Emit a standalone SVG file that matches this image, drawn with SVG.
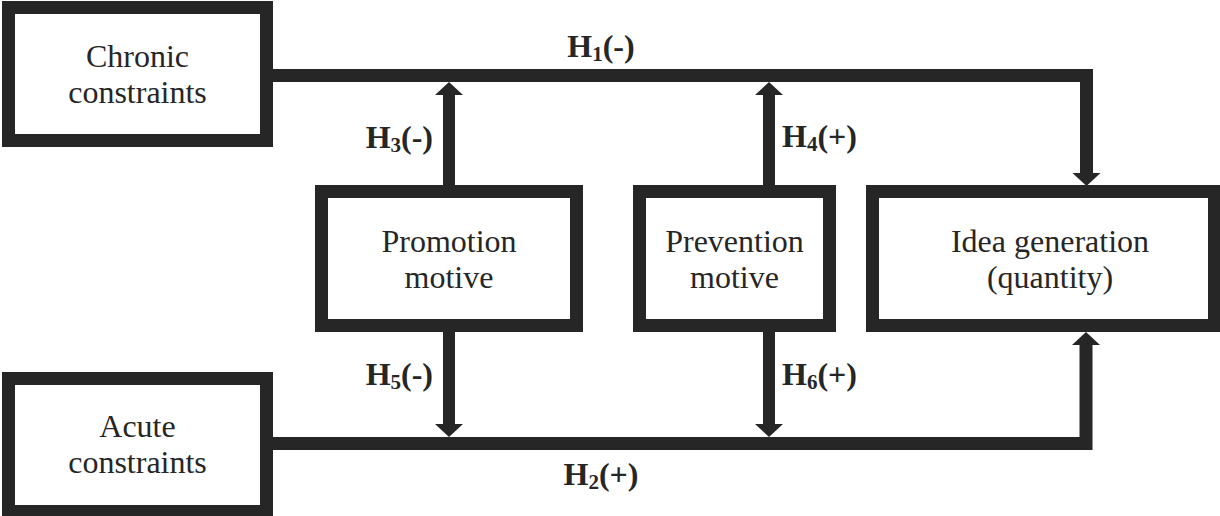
<svg xmlns="http://www.w3.org/2000/svg" width="1220" height="516" viewBox="0 0 1220 516">
<style>
.box{fill:#fff;stroke:#262626;stroke-width:13}
.t{font-family:"Liberation Serif","Times New Roman",serif;font-size:32px;fill:#262626;text-anchor:middle}
.h{font-family:"Liberation Serif","Times New Roman",serif;font-size:32px;font-weight:bold;fill:#262626}
.sub{font-size:21px}
.c{fill:none;stroke:#262626;stroke-width:13;stroke-linejoin:miter}
.v{fill:none;stroke:#262626;stroke-width:12}
</style>
<defs>
<marker id="ah" markerUnits="userSpaceOnUse" viewBox="0 0 13 28" markerWidth="13" markerHeight="28" refX="0" refY="14" orient="auto">
<path d="M0,0 L13,14 L0,28 Z" fill="#262626"/>
</marker>
</defs>
<rect width="1220" height="516" fill="#fff"/>
<g id="connectors">
<path class="c" d="M273,75.5 H1086.5 V173" marker-end="url(#ah)"/>
<path class="c" d="M273,443.5 H1086 V345" marker-end="url(#ah)"/>
<path class="v" d="M449,185 V95" marker-end="url(#ah)"/>
<path class="v" d="M449,332 V424" marker-end="url(#ah)"/>
<path class="v" d="M769,185 V95" marker-end="url(#ah)"/>
<path class="v" d="M769,332 V424" marker-end="url(#ah)"/>
</g>
<g id="labels">
<text class="h" x="601" y="57" text-anchor="middle">H<tspan class="sub" dy="4">1</tspan><tspan dy="-4">(-)</tspan></text>
<text class="h" x="601" y="485" text-anchor="middle">H<tspan class="sub" dy="4">2</tspan><tspan dy="-4">(+)</tspan></text>
<text class="h" x="433" y="148" text-anchor="end">H<tspan class="sub" dy="4">3</tspan><tspan dy="-4">(-)</tspan></text>
<text class="h" x="782" y="147">H<tspan class="sub" dy="4">4</tspan><tspan dy="-4">(+)</tspan></text>
<text class="h" x="433" y="385" text-anchor="end">H<tspan class="sub" dy="4">5</tspan><tspan dy="-4">(-)</tspan></text>
<text class="h" x="782" y="385">H<tspan class="sub" dy="4">6</tspan><tspan dy="-4">(+)</tspan></text>
</g>
<g id="chronic">
<rect class="box" x="8.5" y="7.5" width="258" height="133"/>
<text class="t" x="137.5" y="67">Chronic</text>
<text class="t" x="137.5" y="103">constraints</text>
</g>
<g id="acute">
<rect class="box" x="8.5" y="378.5" width="258" height="133"/>
<text class="t" x="137.5" y="437">Acute</text>
<text class="t" x="137.5" y="473">constraints</text>
</g>
<g id="promotion">
<rect class="box" x="321.5" y="191.5" width="255" height="134"/>
<text class="t" x="449" y="252">Promotion</text>
<text class="t" x="449" y="288">motive</text>
</g>
<g id="prevention">
<rect class="box" x="639.5" y="191.5" width="190" height="134"/>
<text class="t" x="734.5" y="252">Prevention</text>
<text class="t" x="734.5" y="288">motive</text>
</g>
<g id="idea">
<rect class="box" x="872.5" y="191.5" width="342" height="134"/>
<text class="t" x="1050" y="252">Idea generation</text>
<text class="t" x="1050" y="288">(quantity)</text>
</g>
</svg>
